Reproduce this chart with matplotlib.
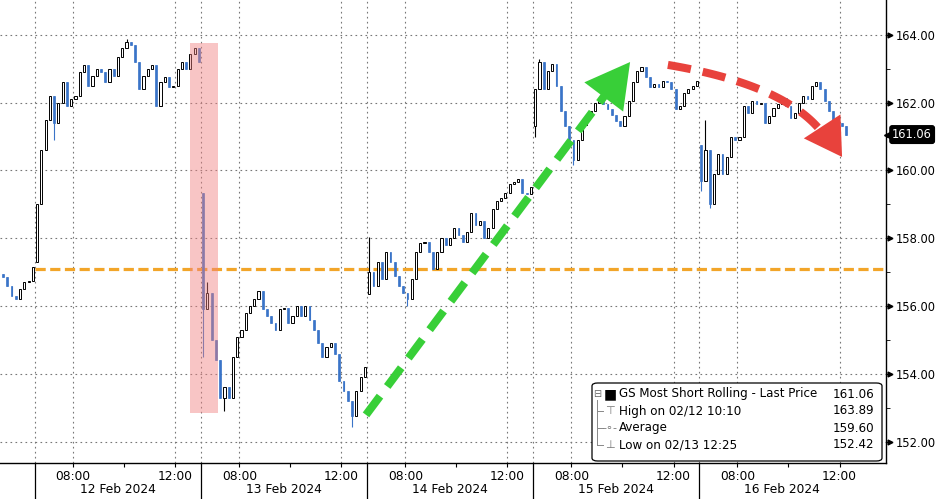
import numpy as np
import matplotlib
matplotlib.use("Agg")
import matplotlib.pyplot as plt
from matplotlib.patches import Rectangle, FancyBboxPatch
from matplotlib.transforms import blended_transform_factory

plt.rcParams.update({"font.family": "DejaVu Sans", "font.size": 8.5})

# ---- data : 10-minute bars, closes per session (06:30-13:00) ----
days = ["09 Feb 2024", "12 Feb 2024", "13 Feb 2024", "14 Feb 2024", "15 Feb 2024", "16 Feb 2024"]
day_open = [156.95, 157.3, 159.35, 156.35, 161.3, 160.75]
first_bar = [31, 0, 0, 0, 0, 0]
close_0209 = [156.85, 156.6, 156.3, 156.2, 156.5, 156.7, 156.75, 157.15]
close_0212 = [159.0, 160.6, 161.5, 162.2, 161.4, 162.0, 162.6, 161.9, 162.1, 162.2,
              162.9, 163.1, 162.5, 162.8, 163.0, 162.9, 162.6, 163.0, 162.8, 163.35,
              163.6, 163.8, 163.7, 163.2, 162.4, 162.8, 163.0, 163.1, 161.9, 162.6,
              162.75, 162.45, 162.5, 163.0, 163.2, 163.0, 163.45, 163.6, 163.2]
close_0213 = [155.9, 156.4, 155.0, 154.4, 153.3, 153.6, 153.3, 154.5, 155.1, 155.3,
              155.8, 156.0, 156.2, 156.45, 155.9, 155.7, 155.5, 155.3, 155.9, 155.95,
              155.5, 155.7, 156.0, 155.7, 156.0, 155.6, 155.3, 154.9, 154.5, 154.8,
              154.9, 154.6, 153.8, 153.5, 153.2, 152.75, 153.5, 153.9, 154.2]
close_0214 = [157.0, 156.6, 157.3, 156.8, 157.6, 157.3, 156.9, 156.6, 156.4, 156.2,
              156.8, 157.6, 157.85, 157.9, 157.6, 157.1, 157.6, 158.0, 157.8, 158.0,
              158.3, 158.1, 157.9, 158.2, 158.75, 158.4, 158.5, 158.0, 158.3, 158.85,
              159.1, 159.2, 159.35, 159.6, 159.65, 159.75, 159.35, 159.3, 159.5]
close_0215 = [162.4, 163.2, 162.4, 162.95, 163.15, 162.5, 161.75, 161.3, 160.9, 160.3,
              160.9, 161.35, 161.6, 161.75, 162.0, 162.05, 161.95, 161.8, 161.65, 161.45,
              161.3, 161.6, 162.05, 162.6, 162.95, 163.05, 162.75, 162.45, 162.55, 162.45,
              162.65, 162.6, 162.4, 161.8, 161.9, 162.3, 162.4, 162.5, 162.65]
close_0216 = [159.7, 160.6, 159.0, 159.9, 160.5, 159.9, 160.4, 161.0, 160.9, 161.0,
              161.9, 161.7, 162.05, 161.95, 162.0, 161.4, 161.6, 161.85, 161.95, 162.15,
              161.9, 161.55, 161.7, 162.0, 162.2, 162.1, 162.5, 162.6, 162.4, 162.05,
              161.75, 161.25, 161.4, 161.3, 161.06]
day_closes = [close_0209, close_0212, close_0213, close_0214, close_0215, close_0216]

# visible wicks (day index, bar index, extreme price)
wick_day = [1, 1, 2, 2, 2, 2, 3, 3, 4, 4, 4, 5, 5, 5]
wick_bar = [4, 21, 0, 1, 5, 35, 0, 9, 0, 1, 9, 0, 1, 2]
wick_to = [160.9, 163.89, 154.5, 156.7, 152.9, 152.42, 158.05, 156.0,
           161.0, 163.3, 160.15, 159.4, 161.5, 158.9]

ref_level = 157.1
last_price = 161.06
legend_rows = [("GS Most Short Rolling - Last Price", "161.06"),
               ("High on 02/12 10:10", "163.89"),
               ("Average", "159.60"),
               ("Low on 02/13 12:25", "152.42")]

# ---- build OHLC ----
t, o, c, key = [], [], [], {}
for d, (op, closes) in enumerate(zip(day_open, day_closes)):
    prev = op
    for i, cl in enumerate(closes):
        key[(d, i)] = len(t)
        t.append(6.5 * (d - 1) + (first_bar[d] + i + 0.5) / 6)
        o.append(prev); c.append(cl); prev = cl
t, o, c = np.array(t), np.array(o), np.array(c)
hi, lo = np.maximum(o, c), np.minimum(o, c)
for d, i, w in zip(wick_day, wick_bar, wick_to):
    k = key[(d, i)]
    hi[k] = max(hi[k], w); lo[k] = min(lo[k], w)

BLUE = "#3a74c8"
W, H = 937, 499
fig = plt.figure(figsize=(W / 100, H / 100), dpi=100)
ax = fig.add_axes([0, 1 - 463 / H, 886 / W, 463 / H])
fx = lambda px: px / W
fy = lambda py: 1 - py / H

# grid
for y in range(152, 165, 2):
    ax.axhline(y, color="#777777", lw=0.8, ls=(0, (1.5, 3)), zorder=1)
for d in range(5):
    for h in (0, 1.5, 5.5):
        ax.axvline(6.5 * d + h, color="#777777", lw=0.8, ls=(0, (1.5, 3)), zorder=1)

ax.hlines(ref_level, 0, 40, color="#f2a529", lw=2.3, ls=(0, (3.2, 1.4)), zorder=2)

# candles
up = c >= o
ax.vlines(t, lo, hi, colors=np.where(up, "black", BLUE), lw=0.8, zorder=3)
bh = np.maximum(np.abs(c - o), 0.05)
ax.bar(t[up], bh[up], bottom=np.minimum(o, c)[up], width=0.085, color="white",
       edgecolor="black", lw=0.7, zorder=4)
ax.bar(t[~up], bh[~up], bottom=np.minimum(o, c)[~up], width=0.07, color=BLUE,
       edgecolor=BLUE, lw=0.5, zorder=4)

# highlight
ax.add_patch(Rectangle((6.07, 152.85), 1.1, 10.9, fc="#f08080", ec="none",
                       alpha=0.45, zorder=5))

# green arrow
G = "#38cf38"
ax.plot([12.96, 22.59], [152.79, 162.5], color=G, lw=5.8, ls=(0, (2.9, 1.5)),
        solid_capstyle="butt", zorder=6)
ax.annotate("", xy=(23.3, 163.2), xytext=(22.4, 162.3),
            arrowprops=dict(arrowstyle="-|>,head_length=0.9,head_width=0.5",
                            mutation_scale=35, color=G, lw=0, shrinkA=0, shrinkB=0),
            zorder=6)

# red curved arrow (quadratic bezier)
R = "#e8423c"
P0, P1, P2 = np.array([24.78, 163.115]), np.array([29.62, 162.5]), np.array([30.97, 160.96])
s = np.linspace(0, 1, 60)[:, None]
curve = (1 - s) ** 2 * P0 + 2 * (1 - s) * s * P1 + s ** 2 * P2
ax.plot(curve[:, 0], curve[:, 1], color=R, lw=5.8, ls=(0, (2.9, 1.5)),
        solid_capstyle="butt", zorder=6)
ax.annotate("", xy=(31.6, 160.4), xytext=(30.95, 161.15),
            arrowprops=dict(arrowstyle="-|>,head_length=0.75,head_width=0.45",
                            mutation_scale=35, color=R, lw=0, shrinkA=0, shrinkB=0),
            zorder=6)

# axes
ax.set_xlim(-1.37, 33.32)
ax.set_ylim(151.37, 165.03)
for sp in ("top", "left"):
    ax.spines[sp].set_visible(False)
ax.spines["right"].set_linewidth(1.0)
ax.spines["bottom"].set_linewidth(1.0)

yt = list(range(152, 165, 2))
ax.yaxis.tick_right()
ax.set_yticks(yt)
ax.set_yticklabels([f"{v:.2f}" for v in yt])
ax.set_yticks(range(153, 165, 2), minor=True)
ax.tick_params(axis="y", which="major", length=3, pad=4, labelsize=8.3)
ax.tick_params(axis="y", which="minor", length=3)
tr_y = blended_transform_factory(ax.transAxes, ax.transData)
ax.plot([1.0045] * len(yt), yt, ls="none", marker=">", ms=3.5, color="k",
        transform=tr_y, clip_on=False)

xt, xl = [], []
for d in range(5):
    for h, lab in ((1.5, "08:00"), (3.5, ""), (5.5, "12:00")):
        xt.append(6.5 * d + h); xl.append(lab)
ax.set_xticks(xt)
ax.set_xticklabels(xl)
ax.tick_params(axis="x", length=3, pad=2, labelsize=8.8)

tr_x = blended_transform_factory(ax.transData, ax.transAxes)
for d in range(5):
    ax.plot([6.5 * d] * 2, [0, -0.09], color="k", lw=0.9, transform=tr_x, clip_on=False)
    ax.text(6.5 * d + 3.25, -0.058, days[d + 1], transform=tr_x, ha="center",
            va="center", fontsize=8.8)

# last price tag
ax.plot([1.004], [last_price], marker="<", ms=8, color="k", transform=tr_y, clip_on=False)
ax.text(1.007, last_price, f"{last_price:.2f}", transform=tr_y, color="white",
        va="center", ha="left", fontsize=8.3,
        bbox=dict(boxstyle="round,pad=0.2,rounding_size=0.2", fc="black", ec="black"))

# legend box
fig.add_artist(FancyBboxPatch((fx(592), fy(461)), fx(882) - fx(592), fy(383) - fy(461),
                              boxstyle="round,pad=0,rounding_size=0.006",
                              transform=fig.transFigure, fc="white", ec="black",
                              lw=0.9, zorder=10))
rows_y = [394, 411, 428, 445]
tc = fig.transFigure
fig.add_artist(plt.Line2D([fx(597)] * 2, [fy(400), fy(445)], color="#888", lw=0.7,
                          transform=tc, zorder=11))
for py in rows_y[1:]:
    fig.add_artist(plt.Line2D([fx(597), fx(603)], [fy(py)] * 2, color="#888", lw=0.7,
                              transform=tc, zorder=11))
fig.text(fx(597), fy(rows_y[0]), "⊟", ha="center", va="center", fontsize=7,
         color="#666", zorder=12)
fig.text(fx(610), fy(rows_y[0]), "■", ha="center", va="center", fontsize=10,
         color="black", zorder=12)
for py, g in zip(rows_y[1:], ["⊤", "-∘-", "⊥"]):
    fig.text(fx(610), fy(py), g, ha="center", va="center", fontsize=8, color="#777",
             zorder=12)
for py, (lab, val) in zip(rows_y, legend_rows):
    fig.text(fx(619), fy(py), lab, ha="left", va="center", fontsize=8.6, zorder=12)
    fig.text(fx(874), fy(py), val, ha="right", va="center", fontsize=8.6, zorder=12)

fig.savefig("out.png", dpi=100)
